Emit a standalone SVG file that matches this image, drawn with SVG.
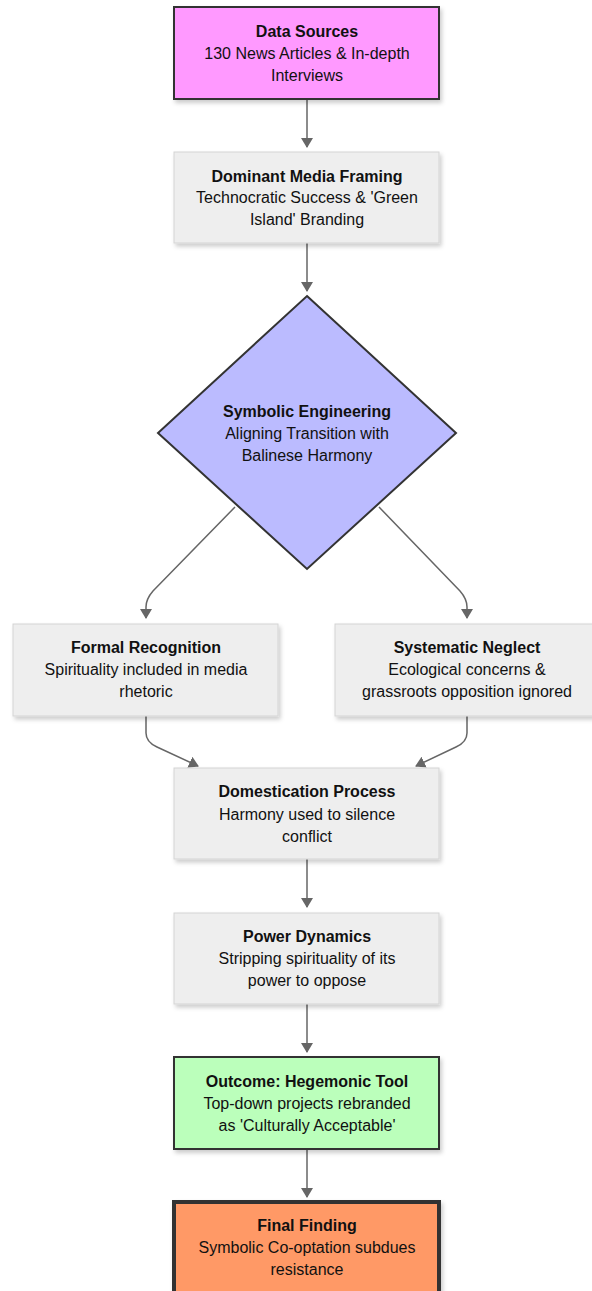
<svg xmlns="http://www.w3.org/2000/svg" width="592" height="1291" viewBox="0 0 592 1291">
<defs>
<style>
.t{font-family:"Liberation Sans",Arial,sans-serif;font-size:16px;fill:#111111;text-anchor:middle}
.b{font-weight:bold}
.gray{fill:#eeeeee;stroke:#d4d4d4;stroke-width:1}
.src{fill:#ff99ff;stroke:#333333;stroke-width:2}
.out{fill:#bbffbb;stroke:#333333;stroke-width:2}
.fin{fill:#ff9966;stroke:#333333;stroke-width:4}
.dia{fill:#bbbbff;stroke:#333333;stroke-width:2}
.e{fill:none;stroke:#666666;stroke-width:1.5}
</style>
<filter id="sh" x="-10%" y="-10%" width="130%" height="140%">
<feDropShadow dx="2" dy="3" stdDeviation="2" flood-color="#000" flood-opacity="0.2"/>
</filter>
<marker id="ah" viewBox="0 0 10 12" markerWidth="10" markerHeight="12" refX="9" refY="6" orient="auto" markerUnits="userSpaceOnUse">
<path d="M0,0 L10,6 L0,12 z" fill="#666666"/>
</marker>
</defs>
<g id="connectors">
<path class="e" d="M307,99 L307,147" marker-end="url(#ah)"/>
<path class="e" d="M307,243 L307,291" marker-end="url(#ah)"/>
<path class="e" d="M235,507 L153,591 Q146,599 146,607 L146,618" marker-end="url(#ah)"/>
<path class="e" d="M379,507 L460,591 Q467,599 467,607 L467,618" marker-end="url(#ah)"/>
<path class="e" d="M146,716 L146,733 Q146,742 157,747 L198,766" marker-end="url(#ah)"/>
<path class="e" d="M467,716 L467,733 Q467,742 456,747 L416,766" marker-end="url(#ah)"/>
<path class="e" d="M307,859 L307,907" marker-end="url(#ah)"/>
<path class="e" d="M307,1004 L307,1052" marker-end="url(#ah)"/>
<path class="e" d="M307,1149 L307,1197" marker-end="url(#ah)"/>
</g>
<g id="data-sources">
<rect class="src" x="174" y="7" width="265" height="92" filter="url(#sh)"/>
<text class="t b" x="307" y="37">Data Sources</text>
<text class="t" x="307" y="59">130 News Articles &amp; In-depth</text>
<text class="t" x="307" y="81">Interviews</text>
</g>
<g id="dominant-media-framing">
<rect class="gray" x="174" y="152" width="265" height="91" filter="url(#sh)"/>
<text class="t b" x="307" y="182">Dominant Media Framing</text>
<text class="t" x="307" y="203">Technocratic Success &amp; 'Green</text>
<text class="t" x="307" y="225">Island' Branding</text>
</g>
<g id="symbolic-engineering">
<polygon class="dia" points="307,296 456,433 307,569 158,433"/>
<text class="t b" x="307" y="417">Symbolic Engineering</text>
<text class="t" x="307" y="439">Aligning Transition with</text>
<text class="t" x="307" y="461">Balinese Harmony</text>
</g>
<g id="formal-recognition">
<rect class="gray" x="13" y="624" width="265" height="92" filter="url(#sh)"/>
<text class="t b" x="146" y="653">Formal Recognition</text>
<text class="t" x="146" y="675">Spirituality included in media</text>
<text class="t" x="146" y="697">rhetoric</text>
</g>
<g id="systematic-neglect">
<rect class="gray" x="335" y="624" width="265" height="92" filter="url(#sh)"/>
<text class="t b" x="467" y="653">Systematic Neglect</text>
<text class="t" x="467" y="675">Ecological concerns &amp;</text>
<text class="t" x="467" y="697">grassroots opposition ignored</text>
</g>
<g id="domestication-process">
<rect class="gray" x="174" y="768" width="265" height="91" filter="url(#sh)"/>
<text class="t b" x="307" y="797">Domestication Process</text>
<text class="t" x="307" y="820">Harmony used to silence</text>
<text class="t" x="307" y="842">conflict</text>
</g>
<g id="power-dynamics">
<rect class="gray" x="174" y="913" width="265" height="91" filter="url(#sh)"/>
<text class="t b" x="307" y="942">Power Dynamics</text>
<text class="t" x="307" y="964">Stripping spirituality of its</text>
<text class="t" x="307" y="986">power to oppose</text>
</g>
<g id="outcome">
<rect class="out" x="174" y="1057" width="265" height="92" filter="url(#sh)"/>
<text class="t b" x="307" y="1087">Outcome: Hegemonic Tool</text>
<text class="t" x="307" y="1109">Top-down projects rebranded</text>
<text class="t" x="307" y="1131">as 'Culturally Acceptable'</text>
</g>
<g id="final-finding">
<rect class="fin" x="174" y="1202" width="265" height="92" filter="url(#sh)"/>
<text class="t b" x="307" y="1231">Final Finding</text>
<text class="t" x="307" y="1253">Symbolic Co-optation subdues</text>
<text class="t" x="307" y="1275">resistance</text>
</g>
</svg>
